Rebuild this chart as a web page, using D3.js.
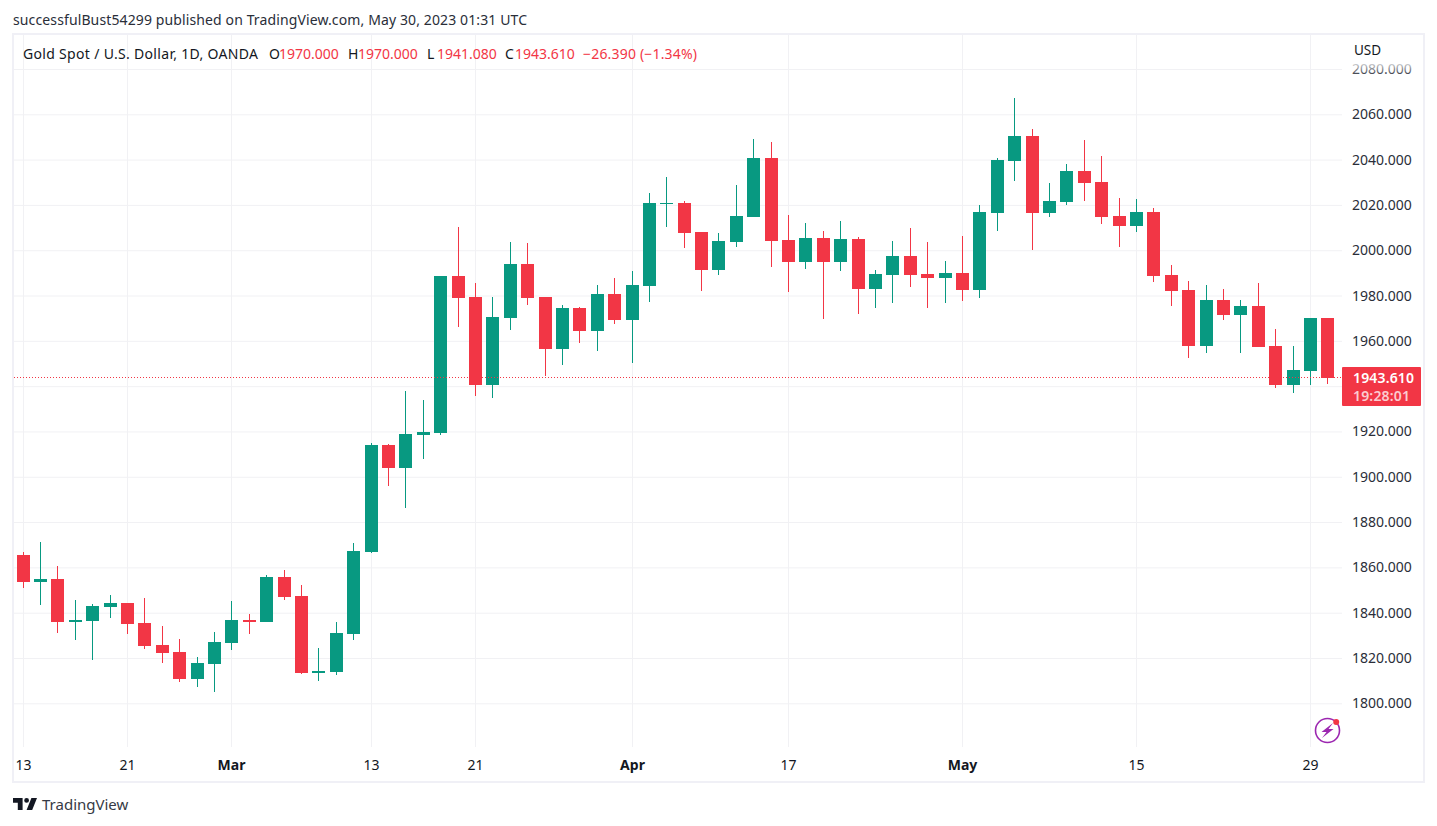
<!DOCTYPE html>
<html>
<head>
<meta charset="utf-8">
<script src="https://cdn.jsdelivr.net/npm/d3@7"></script>
<style>
  html, body { margin: 0; padding: 0; background: #fff; overflow: hidden; }
  svg { display: block; }
  text { font-family: "Noto Sans", sans-serif; }
  .domain { display: none; }
</style>
</head>
<body>
<script>
var dates = ["Feb13","Feb14","Feb15","Feb16","Feb17","Feb20","Feb21","Feb22","Feb23","Feb24","Feb27","Feb28",
  "Mar1","Mar2","Mar3","Mar6","Mar7","Mar8","Mar9","Mar10","Mar13","Mar14","Mar15","Mar16","Mar17","Mar20","Mar21","Mar22","Mar23","Mar24","Mar27","Mar28","Mar29","Mar30","Mar31",
  "Apr3","Apr4","Apr5","Apr6","Apr10","Apr11","Apr12","Apr13","Apr14","Apr17","Apr18","Apr19","Apr20","Apr21","Apr24","Apr25","Apr26","Apr27","Apr28",
  "May1","May2","May3","May4","May5","May8","May9","May10","May11","May12","May15","May16","May17","May18","May19","May22","May23","May24","May25","May26","May29","May30"];

var opens = [1865.5,1853.5,1854.9,1835.9,1836.3,1842.5,1844.3,1835.4,1825.7,1822.6,1810.7,1817.3,
  1826.6,1836.8,1835.9,1855.8,1847.4,1813.4,1813.8,1830.6,1866.8,1914.0,1903.9,1918.4,1919.3,1988.6,1979.4,1940.5,1970.1,1993.9,1979.4,1956.4,1974.5,1964.3,1980.7,
  1969.2,1984.2,2020.4,2020.9,2008.1,1991.3,2003.6,2014.7,2040.7,2004.5,1994.8,2005.4,1994.8,2005.0,1982.9,1989.1,1997.5,1989.5,1987.8,
  1990.0,1982.5,2016.4,2039.4,2050.4,2016.4,2021.3,2035.0,2030.1,2015.1,2010.7,2016.9,1989.1,1982.5,1957.7,1978.0,1971.4,1975.4,1957.7,1940.5,1946.7,1970.0];
var closes = [1853.5,1854.9,1835.9,1836.8,1843.0,1844.3,1835.0,1825.3,1822.2,1810.7,1817.8,1827.1,
  1836.8,1835.9,1855.8,1846.9,1813.4,1814.3,1831.0,1867.2,1914.0,1903.9,1918.9,1919.8,1988.6,1978.9,1940.5,1970.5,1993.9,1978.9,1956.4,1974.5,1964.3,1980.7,1969.2,
  1984.7,2020.9,2020.9,2007.6,1991.3,2004.1,2015.1,2040.7,2004.1,1994.8,2005.4,1994.8,2005.0,1982.9,1989.5,1997.5,1989.1,1987.8,1990.0,
  1982.5,2016.9,2039.8,2050.4,2016.4,2021.7,2035.0,2029.7,2014.7,2010.7,2016.9,1988.6,1982.0,1957.7,1978.0,1971.4,1975.4,1957.3,1940.5,1947.1,1970.0,1943.61];
var highs = [1866.8,1871.2,1860.6,1845.6,1843.8,1847.8,1844.3,1846.5,1834.1,1828.4,1820.4,1831.5,
  1845.2,1839.4,1856.6,1858.8,1852.2,1824.4,1835.9,1870.8,1914.9,1914.5,1937.8,1933.9,1988.6,2010.3,1985.5,1979.4,2003.6,2003.2,1979.4,1975.8,1974.9,1984.7,1987.7,
  1990.8,2025.3,2032.3,2021.7,2008.1,2007.6,2028.8,2049.1,2047.8,2015.6,2012.0,2008.5,2012.9,2005.8,1991.3,2004.1,2009.8,2003.6,1995.3,
  2006.3,2020.0,2040.7,2067.2,2053.5,2029.7,2038.1,2048.7,2041.6,2023.1,2022.6,2018.6,1993.5,1986.4,1984.7,1982.9,1978.0,1985.5,1965.2,1957.7,1970.0,1970.0];
var lows = [1850.9,1843.4,1831.0,1827.9,1819.1,1837.7,1830.6,1824.0,1817.8,1809.4,1807.2,1805.0,
  1823.5,1830.6,1835.9,1845.6,1812.9,1809.8,1812.5,1827.9,1866.5,1895.9,1886.2,1907.8,1918.4,1966.1,1935.7,1934.8,1964.8,1975.8,1944.5,1949.3,1959.0,1955.5,1967.4,
  1950.2,1977.1,2010.2,2001.0,1982.0,1989.1,2001.4,2014.7,1992.6,1981.6,1991.7,1969.6,1990.8,1971.8,1974.5,1976.7,1983.8,1974.5,1976.7,
  1977.6,1978.9,2008.5,2030.6,2000.1,2014.7,2020.0,2021.7,2011.6,2001.4,2008.1,1986.0,1975.4,1952.4,1954.6,1969.2,1954.6,1957.3,1939.2,1937.0,1940.5,1941.08];

var priceTicks = [1800,1820,1840,1860,1880,1900,1920,1940,1960,1980,2000,2020,2040,2060,2080];
var hiddenPriceLabels = [1940]; // sits behind the last price badge
var timeTicks = ["Feb13","Feb21","Mar1","Mar13","Mar21","Apr3","Apr17","May1","May15","May29"];
var timeLabels = ["13","21","Mar","13","21","Apr","17","May","15","29"];
var boldLabels = ["Mar","Apr","May"];
var lastPrice = 1943.61;
var countdown = "19:28:01";

var red = "#f23645", green = "#089981", grid = "#f1f1f4", ink = "#131722", axisInk = "#2a2e39";
var width = 1437, height = 826;
var left = 14, right = 1342, top_ = 35, bottom = 747;

var svg = d3.select("body").append("svg").attr("width", width).attr("height", height);

var x = d3.scalePoint().domain(dates).range([23.7, 1328.3]);
var y = d3.scaleLinear().domain([1800, 2060]).range([703.3, 114.3]);

function bodyLeft(d) { return Math.floor(x(d) - 6.5); }
function wickX(d) { return bodyLeft(d) + 6; }
function color(d, i) { return closes[i] >= opens[i] ? green : red; }

// frame
svg.append("rect").attr("x", 13).attr("y", 34).attr("width", 1411).attr("height", 748)
  .attr("fill", "#fff").attr("stroke", "#f0f0f6").attr("stroke-width", 2);

// grid
var gridY = svg.append("g").attr("transform", "translate(" + left + ",0)")
  .call(d3.axisRight(y).tickValues(priceTicks).tickSize(right - left).tickFormat(""));
gridY.selectAll("line").attr("stroke", grid);

var gridX = svg.append("g").attr("transform", "translate(0," + top_ + ")")
  .call(d3.axisBottom(x).tickValues(timeTicks).tickSize(bottom - top_).tickFormat(""));
gridX.selectAll("line").attr("stroke", grid);
gridX.selectAll(".tick").attr("transform", function (d) { return "translate(" + (wickX(d) + 0.5) + ",0)"; });

// candles
var candles = svg.append("g").selectAll("g").data(dates).join("g")
  .attr("shape-rendering", "crispEdges");

candles.append("rect")
  .attr("x", wickX)
  .attr("width", 1)
  .attr("y", function (d, i) { return Math.round(y(highs[i])); })
  .attr("height", function (d, i) { return Math.max(1, Math.round(y(lows[i])) - Math.round(y(highs[i]))); })
  .attr("fill", color);

candles.append("rect")
  .attr("x", bodyLeft)
  .attr("width", 13)
  .attr("y", function (d, i) { return Math.round(y(Math.max(opens[i], closes[i]))); })
  .attr("height", function (d, i) {
    return Math.max(1, Math.round(y(Math.min(opens[i], closes[i]))) - Math.round(y(Math.max(opens[i], closes[i]))));
  })
  .attr("fill", color);

// last price line
svg.append("line")
  .attr("x1", left).attr("x2", right)
  .attr("y1", Math.round(y(lastPrice)) - 0.5).attr("y2", Math.round(y(lastPrice)) - 0.5)
  .attr("stroke", red).attr("stroke-dasharray", "1 2");

// price axis
var priceAxis = svg.append("g").attr("transform", "translate(1352,0)")
  .call(d3.axisRight(y)
    .tickValues(priceTicks.filter(function (p) { return hiddenPriceLabels.indexOf(p) < 0; }))
    .tickSize(0).tickPadding(0).tickFormat(d3.format(".3f")));
priceAxis.selectAll("text").attr("fill", axisInk).style("font-size", "14px");

// fade over the top label
var defs = svg.append("defs");
var fade = defs.append("linearGradient").attr("id", "fade").attr("x1", 0).attr("x2", 0).attr("y1", 0).attr("y2", 1);
fade.append("stop").attr("offset", 0).attr("stop-color", "#fff").attr("stop-opacity", 1);
fade.append("stop").attr("offset", 1).attr("stop-color", "#fff").attr("stop-opacity", 0);
svg.append("rect").attr("x", 1343).attr("y", 60).attr("width", 78).attr("height", 16).attr("fill", "url(#fade)");

svg.append("text").attr("x", 1354).attr("y", 55).attr("fill", ink).style("font-size", "13.5px").text("USD");

// time axis
var timeAxis = svg.append("g").attr("transform", "translate(0,760)")
  .call(d3.axisBottom(x).tickValues(timeTicks).tickSize(0).tickPadding(0)
    .tickFormat(function (d, i) { return timeLabels[i]; }));
timeAxis.selectAll(".tick").attr("transform", function (d) { return "translate(" + (wickX(d) + 0.5) + ",0)"; });
timeAxis.selectAll("text").attr("fill", ink)
  .style("font-size", "14px")
  .style("font-weight", function (d, i) { return boldLabels.indexOf(timeLabels[i]) >= 0 ? 700 : 400; });

// last price badge
svg.append("rect").attr("x", 1342).attr("y", 367).attr("width", 79).attr("height", 39).attr("rx", 1).attr("fill", red);
svg.append("text").attr("x", 1353).attr("y", 382.5).attr("fill", "#fff").attr("textLength", 61).style("font-size", "14px").style("font-weight", 600)
  .text(d3.format(".3f")(lastPrice));
svg.append("text").attr("x", 1353).attr("y", 400.5).attr("fill", "#fff").attr("fill-opacity", 0.75).attr("textLength", 57).style("font-size", "14px").style("font-weight", 600)
  .text(countdown);

// headline
svg.append("text").attr("x", 13).attr("y", 25).attr("fill", "#2a2e39").attr("textLength", 514).style("font-size", "14px")
  .text("successfulBust54299 published on TradingView.com, May 30, 2023 01:31 UTC");

var legendParts = ["Gold Spot / U.S. Dollar, 1D, OANDA", "O", "1970.000", "H", "1970.000", "L", "1941.080", "C", "1943.610", "\u221226.390 (\u22121.34%)"];
var legendX = [23, 269, 279, 348, 358, 427, 437, 505, 515, 583];
var legendLen = [235, null, null, null, null, null, null, null, null, 114];
var legendIsValue = [false, false, true, false, true, false, true, false, true, true];
svg.append("g").selectAll("text").data(legendParts).join("text")
  .attr("x", function (d, i) { return legendX[i]; })
  .attr("y", 59)
  .attr("textLength", function (d, i) { return legendLen[i]; })
  .attr("fill", function (d, i) { return legendIsValue[i] ? red : ink; })
  .style("font-size", "14px")
  .text(function (d) { return d; });

// logo
var logo = svg.append("g").attr("transform", "translate(11.4,793.2) scale(0.8)").attr("fill", ink);
logo.append("path").attr("d", "M14 6H2v6h6v9h6V6zm12 15h-7l6-15h7l-6 15zm-7-9a3 3 0 1 0 0-6 3 3 0 0 0 0 6z");
svg.append("text").attr("x", 42).attr("y", 810).attr("fill", "#363a45").style("font-size", "15px").text("TradingView");

// bolt badge
var badge = svg.append("g").attr("transform", "translate(1327.5,730.5)");
badge.append("circle").attr("r", 12).attr("fill", "#fff").attr("stroke", "#9c27b0").attr("stroke-width", 1.6);
badge.append("path").attr("d", "M5.5 -7.5 L-6 1.5 L-1 1.5 L-5.5 7.5 L6 -1.5 L1 -1.5 Z").attr("fill", "#9c27b0");
badge.append("circle").attr("cx", 8.7).attr("cy", -8.5).attr("r", 3).attr("fill", red);
</script>
</body>
</html>
